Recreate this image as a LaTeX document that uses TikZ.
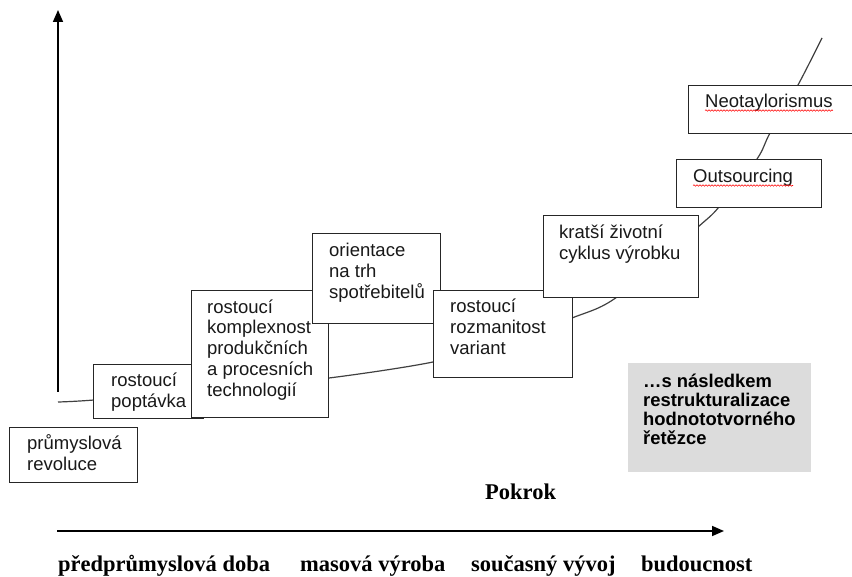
\documentclass[tikz,border=0pt]{standalone}
\usepackage{fontspec}
\newfontfamily\sansf{Liberation Sans}
\newfontfamily\serf{Liberation Serif}
\usetikzlibrary{arrows.meta,decorations.pathmorphing,calc}
\definecolor{boxgray}{HTML}{DCDCDC}
\definecolor{curvecol}{HTML}{404040}
\tikzset{
  box/.style={draw=black!85, line width=1.3pt, fill=white, inner sep=0pt, anchor=north west},
  btxt/.style={font=\sansf\fontsize{18.5}{21}\selectfont, align=left, anchor=base west, inner sep=0pt, text=black!90},
  gtxt/.style={font=\sansf\bfseries\fontsize{18.4}{19.3}\selectfont, align=left, anchor=base west, inner sep=0pt},
  axis/.style={line width=1.6pt, -{Triangle[length=12pt,width=10pt]}},
  curve/.style={draw=curvecol, line width=1.2pt},
  ltxt/.style={font=\serf\bfseries\fontsize{22.5}{24}\selectfont, anchor=base west, inner sep=0pt},
  spell/.style={draw=red, line width=0.6pt, decorate, decoration={snake, segment length=3pt, amplitude=0.7pt}}
}
\begin{document}
\begin{tikzpicture}[x=1pt,y=-1pt]
\useasboundingbox (0,0) rectangle (852,577);
% axes
\coordinate (vb) at (58,392);
\coordinate (vt) at (58,10);
\draw[axis] (vb) -- (vt);
\coordinate (hl) at (57,531);
\coordinate (hr) at (724,531);
\draw[axis] (hl) -- (hr);
% curve
\draw[curve] plot[smooth, tension=0.5] coordinates {(58,402) (94,400) (210,390) (329,378) (433,362) (505,342) (572,318) (617,297) (698,227) (719,207) (757,159) (770,133) (798,85) (822,38)};
% boxes (text anchors at the baseline of the last line)
\node[box, minimum width=128pt, minimum height=55pt] (b1) at (9,427) {};
\node[btxt] (t1) at (27,471) {průmyslová\\revoluce};
\node[box, minimum width=110pt, minimum height=54pt] (b2) at (93,364) {};
\node[btxt] (t2) at (111,408) {rostoucí\\poptávka};
\node[box, minimum width=137pt, minimum height=127pt] (b3) at (191,290) {};
\node[btxt] (t3) at (207,397) {rostoucí\\komplexnost\\produkčních\\a procesních\\technologií};
\node[box, minimum width=128pt, minimum height=90pt] (b4) at (312,233) {};
\node[btxt] (t4) at (329,299) {orientace\\na trh\\spotřebitelů};
\node[box, minimum width=139pt, minimum height=87pt] (b5) at (433,290) {};
\node[btxt] (t5) at (450,355) {rostoucí\\rozmanitost\\variant};
\node[box, minimum width=155pt, minimum height=82pt] (b6) at (543,215) {};
\node[btxt] (t6) at (559,260) {kratší životní\\cyklus výrobku};
\node[box, minimum width=145pt, minimum height=48pt] (b7) at (676,159) {};
\node[btxt] (t7) at (693,183) {Outsourcing};
\node[box, minimum width=175pt, minimum height=48pt] (b8) at (688,85) {};
\node[btxt] (t8) at (705,108) {Neotaylorismus};
\draw[spell] ($(t7.base west)+(0,2.5)$) -- ($(t7.base east)+(0,2.5)$);
\draw[spell] ($(t8.base west)+(0,2.5)$) -- ($(t8.base east)+(0,2.5)$);
% gray box
\node[fill=boxgray, inner sep=0pt, anchor=north west, minimum width=183pt, minimum height=109pt] (g) at (628,363) {};
\node[gtxt] (gt) at (643,445) {…s následkem\\restrukturalizace\\hodnototvorného\\řetězce};
% labels
\node[ltxt] (pok) at (485,499) {Pokrok};
\node[ltxt] (l1) at (58,571) {předprůmyslová doba};
\node[ltxt] (l2) at (300,571) {masová výroba};
\node[ltxt] (l3) at (471,571) {současný vývoj};
\node[ltxt] (l4) at (641,571) {budoucnost};
\end{tikzpicture}
\end{document}
